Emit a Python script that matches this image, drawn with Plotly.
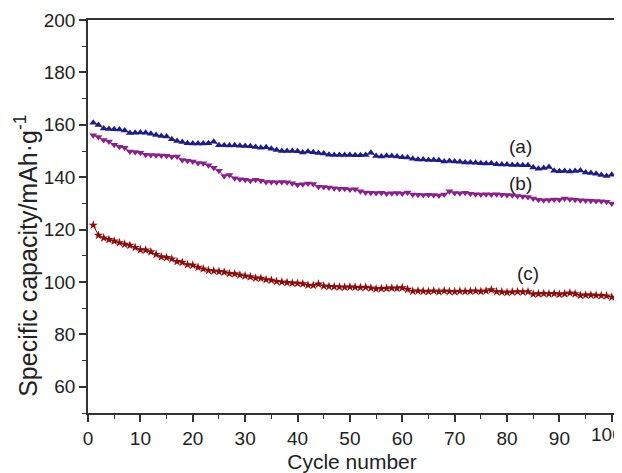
import plotly.graph_objects as go

cycles = list(range(1, 101))

cap_a = [160.8, 159.9, 158.6, 158.4, 158.3, 158.2, 157.8, 156.9, 157.0, 157.1,
         157.0, 156.6, 156.1, 155.7, 155.5, 154.5, 153.8, 153.4, 153.0, 152.9,
         152.9, 152.9, 153.0, 153.5, 152.2, 152.2, 152.1, 152.2, 152.0, 151.9,
         151.8, 151.5, 151.2, 151.4, 150.9, 150.4, 150.0, 150.0, 150.0, 149.9,
         149.4, 149.8, 149.5, 149.2, 149.0, 148.6, 148.5, 148.5, 148.5, 148.5,
         148.4, 148.4, 148.5, 149.3, 148.1, 147.9, 148.2, 148.1, 147.9, 147.6,
         147.5, 147.0, 146.8, 146.8, 146.6, 146.6, 146.5, 146.0, 146.2, 146.0,
         145.9, 145.6, 145.6, 145.5, 145.3, 145.2, 145.3, 144.9, 144.8, 144.8,
         144.7, 144.7, 144.6, 144.6, 143.7, 143.2, 143.5, 143.9, 142.5, 142.3,
         142.4, 142.2, 142.4, 142.6, 141.8, 141.6, 141.3, 140.8, 140.5, 140.9]

cap_b = [156.0, 155.3, 154.2, 153.6, 152.4, 151.6, 151.2, 149.8, 149.6, 149.3,
         148.6, 148.5, 148.4, 148.3, 148.2, 147.8, 147.9, 146.6, 146.3, 146.0,
         145.4, 145.3, 144.6, 143.6, 142.5, 140.5, 140.8, 139.6, 139.2, 139.0,
         138.6, 139.0, 138.6, 138.2, 138.2, 138.1, 138.2, 138.1, 137.7, 137.1,
         137.3, 137.6, 137.4, 136.4, 136.3, 136.1, 135.8, 135.6, 135.6, 135.3,
         135.4, 134.6, 134.2, 134.1, 134.0, 134.1, 133.8, 133.9, 134.0, 133.8,
         134.2, 133.4, 133.3, 133.2, 133.3, 133.2, 133.0, 133.4, 134.6, 134.0,
         133.9, 134.1, 133.7, 133.5, 133.4, 133.5, 133.4, 133.5, 133.3, 133.2,
         133.1, 132.8, 132.6, 132.4, 131.9, 131.4, 131.2, 131.3, 131.5, 131.4,
         131.9, 131.6, 131.4, 131.2, 131.1, 131.0, 130.9, 130.8, 130.6, 130.0]

cap_c = [121.7, 117.8, 116.8, 116.2, 115.6, 115.0, 114.4, 114.0, 113.2, 112.3,
         112.2, 111.5, 110.5, 109.6, 109.3, 108.8, 107.8, 107.5, 106.6, 106.4,
         105.6, 105.0, 104.4, 104.2, 104.0, 103.8, 103.2, 103.1, 102.7, 102.3,
         102.0, 101.5, 101.4, 100.9, 100.7, 100.2, 100.0, 99.8, 99.6, 99.5,
         99.3, 98.8, 98.7, 99.2, 98.5, 98.3, 98.2, 98.1, 98.0, 98.1,
         98.0, 97.9, 98.0, 97.7, 97.4, 97.5, 97.6, 97.7, 97.6, 97.8,
         97.2, 96.5, 96.6, 96.5, 96.4, 96.6, 96.3, 96.6, 96.4, 96.3,
         96.5, 96.4, 96.5, 96.6, 96.4, 96.6, 97.0, 96.3, 96.2, 96.0,
         96.2, 96.3, 96.2, 96.3, 95.4, 95.5, 95.6, 95.5, 95.6, 95.3,
         95.5, 95.8, 95.5, 94.9, 95.0, 95.0, 94.9, 94.8, 94.7, 94.2]

x_ticks = [0, 10, 20, 30, 40, 50, 60, 70, 80, 90, 100]
x_ticklabels = ["0", "10", "20", "30", "40", "50", "60", "70", "80", "90", "100"]

labels = ["(a)", "(b)", "(c)"]
label_x = [82.5, 82.5, 84.0]
label_y = [151.6, 137.6, 103.4]

x_title = "Cycle number"
y_title = "Specific capacity/mAh·g<sup>-1</sup>"

series = [
    (cap_a, "#1c1c8c", "triangle-up"),
    (cap_b, "#8e1f8e", "triangle-down"),
    (cap_c, "#8c0c0c", "star"),
]

fig = go.Figure()
for vals, col, sym in series:
    fig.add_trace(go.Scatter(
        x=cycles, y=vals, mode="lines+markers",
        line=dict(color=col, width=1),
        marker=dict(symbol=sym, size=7, color=col),
        showlegend=False, cliponaxis=False,
    ))

for t, x, y in zip(labels, label_x, label_y):
    fig.add_annotation(x=x, y=y, text=t, showarrow=False,
                       font=dict(size=19, color="#222"))

# y-axis title as a rotated annotation (sits lower than the axis centre in the reference)
fig.add_annotation(xref="paper", yref="paper", x=0, y=0.40, xanchor="center", yanchor="middle",
                   xshift=-62, text=y_title, textangle=-90, showarrow=False,
                   font=dict(size=25, color="#222"))

# last x tick label drawn slightly inward so it stays inside the window, as in the reference
fig.add_annotation(xref="x", yref="paper", x=x_ticks[-1], y=0, xanchor="center", yanchor="top",
                   xshift=-5, yshift=-9, text=x_ticklabels[-1], showarrow=False,
                   font=dict(size=19, color="#222"))

axis_common = dict(
    showline=True, linecolor="#333", linewidth=1.5, mirror=True,
    ticks="outside", ticklen=7, tickwidth=1.5, tickcolor="#333",
    showgrid=False, zeroline=False, automargin=False,
    ticklabeloverflow="allow",
    tickfont=dict(size=19, color="#222"),
)

fig.update_xaxes(range=[0, 100.8], tickmode="array", tickvals=x_ticks,
                 ticktext=x_ticklabels[:-1] + [""],
                 minor=dict(ticks="outside", ticklen=4, dtick=5, tick0=0, tickcolor="#333", tickwidth=1.2),
                 title=dict(text=x_title, font=dict(size=21, color="#222"), standoff=8),
                 **axis_common)
fig.update_yaxes(range=[50, 200], tickmode="linear", tick0=60, dtick=20,
                 minor=dict(ticks="outside", ticklen=4, dtick=10, tick0=50, tickcolor="#333", tickwidth=1.2),
                 **axis_common)

# page body has an 8px default margin, so the figure is sized/offset to fit the 622x473 window
fig.update_layout(
    width=614, height=465,
    margin=dict(l=80, r=6, t=12, b=60),
    plot_bgcolor="white", paper_bgcolor="white",
    font=dict(family="Liberation Sans, Arial, sans-serif"),
)

fig.write_html("out.html")
